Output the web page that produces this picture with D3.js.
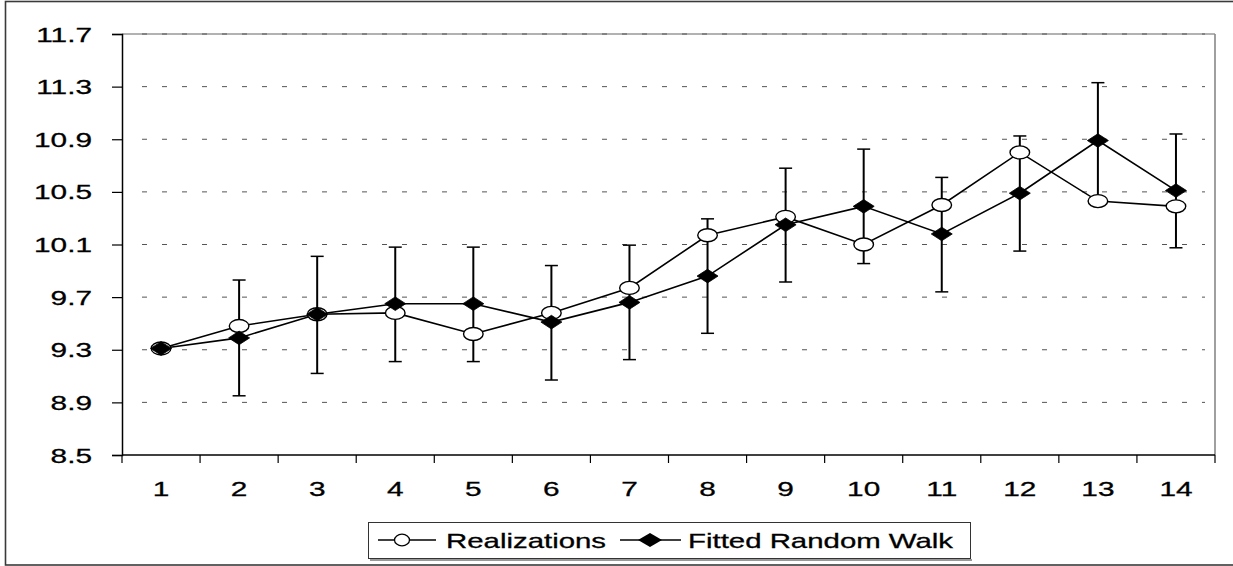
<!DOCTYPE html>
<html>
<head>
<meta charset="utf-8">
<script src="https://cdn.jsdelivr.net/npm/d3@7"></script>
<style>
  html, body { margin: 0; padding: 0; background: #fff; }
  svg { display: block; }
  text { font-family: "Liberation Sans", Arial, sans-serif; fill: #000; stroke: #000; stroke-width: 0.3px; }
</style>
</head>
<body>
<svg id="chart" width="1233" height="566"></svg>
<script>
// ---- data ----
const categories = ["1","2","3","4","5","6","7","8","9","10","11","12","13","14"];
const realizations = [9.31, 9.48, 9.57, 9.58, 9.42, 9.58, 9.77, 10.17, 10.31, 10.10, 10.40, 10.80, 10.43, 10.39];
const fittedRandomWalk = [9.31, 9.39, 9.57, 9.65, 9.65, 9.51, 9.66, 9.86, 10.25, 10.39, 10.18, 10.49, 10.89, 10.51];
const errorPlus  = [0, 0.44, 0.44, 0.43, 0.43, 0.43, 0.435, 0.435, 0.43, 0.435, 0.43, 0.435, 0.44, 0.43];
const errorMinus = [0, 0.44, 0.45, 0.44, 0.44, 0.44, 0.435, 0.435, 0.435, 0.435, 0.44, 0.44, 0.44, 0.435];
const yTicks = [8.5, 8.9, 9.3, 9.7, 10.1, 10.5, 10.9, 11.3, 11.7];
const yTickLabels = ["8.5", "8.9", "9.3", "9.7", "10.1", "10.5", "10.9", "11.3", "11.7"];
const seriesNames = ["Realizations", "Fitted Random Walk"];

// ---- layout ----
const SX = 1.42;            // horizontal stretch of the reference
const FS = 21;
const pLeft = 122, pRight = 1215, pTop = 34, pBottom = 455;

const svg = d3.select("#chart");

const x = d3.scaleBand().domain(categories).range([pLeft, pRight]).padding(0);
const y = d3.scaleLinear().domain([8.5, 11.7]).range([pBottom, pTop]);
const cx = c => x(c) + x.bandwidth() / 2;

// outer frame
svg.append("rect").attr("x", 5.5).attr("y", 1.5).attr("width", 1260).attr("height", 563.5)
  .attr("fill", "none").attr("stroke", "#3a3a3a").attr("stroke-width", 1.6);

// plot area border top and right (gray)
svg.append("line").attr("x1", pLeft).attr("x2", pRight).attr("y1", y(11.7)).attr("y2", y(11.7))
  .attr("stroke", "#999").attr("stroke-width", 1.5);
svg.append("line").attr("x1", pRight).attr("x2", pRight).attr("y1", y(11.7)).attr("y2", y(8.5))
  .attr("stroke", "#888").attr("stroke-width", 1.6);

// gridlines (dashed)
svg.append("g").selectAll("line").data(yTicks.filter(v => v > 8.5)).join("line")
  .attr("x1", pLeft + 20).attr("x2", pRight - 10)
  .attr("y1", d => y(d)).attr("y2", d => y(d))
  .attr("stroke", "#555").attr("stroke-width", 1)
  .attr("stroke-dasharray", "5,15");

// y axis
const yAxis = d3.axisLeft(y).tickValues(yTicks).tickSize(10).tickFormat("");
const gy = svg.append("g").attr("transform", `translate(${pLeft},0)`).call(yAxis);
gy.select(".domain").attr("stroke", "#000").attr("stroke-width", 1.5);
gy.selectAll(".tick line").attr("stroke", "#000").attr("stroke-width", 1.2);

svg.append("g").selectAll("text").data(yTicks).join("text")
  .attr("transform", (d) => `translate(92,${y(d) + 7.5}) scale(${SX},1)`)
  .attr("text-anchor", "end").attr("font-size", FS)
  .text((d, i) => yTickLabels[i]);

// x axis
svg.append("line").attr("x1", pLeft).attr("x2", pRight).attr("y1", pBottom).attr("y2", pBottom)
  .attr("stroke", "#000").attr("stroke-width", 1.5);
const boundaries = categories.map(c => x(c)).concat([x(categories[categories.length - 1]) + x.bandwidth()]);
svg.append("g").selectAll("line").data(boundaries).join("line")
  .attr("x1", d => d).attr("x2", d => d).attr("y1", pBottom).attr("y2", pBottom + 8)
  .attr("stroke", "#000").attr("stroke-width", 1.2);
svg.append("g").selectAll("text").data(categories).join("text")
  .attr("transform", d => `translate(${cx(d)},496) scale(${SX},1)`)
  .attr("text-anchor", "middle").attr("font-size", FS)
  .text(d => d);

// error bars on fitted series
const eb = svg.append("g");
categories.forEach((c, i) => {
  if (errorPlus[i] === 0 && errorMinus[i] === 0) return;
  const xc = cx(c);
  const yt = y(fittedRandomWalk[i] + errorPlus[i]);
  const yb = y(fittedRandomWalk[i] - errorMinus[i]);
  eb.append("line").attr("x1", xc).attr("x2", xc).attr("y1", yt).attr("y2", yb)
    .attr("stroke", "#000").attr("stroke-width", 2);
  [yt, yb].forEach(yy => eb.append("line").attr("x1", xc - 6.5).attr("x2", xc + 6.5)
    .attr("y1", yy).attr("y2", yy).attr("stroke", "#000").attr("stroke-width", 1.5));
});

// series lines
const line = d3.line().x((d, i) => cx(categories[i])).y(d => y(d));
svg.append("path").datum(realizations).attr("d", line)
  .attr("fill", "none").attr("stroke", "#000").attr("stroke-width", 1.6);
svg.append("path").datum(fittedRandomWalk).attr("d", line)
  .attr("fill", "none").attr("stroke", "#000").attr("stroke-width", 1.6);

// markers
svg.append("g").selectAll("ellipse").data(realizations).join("ellipse")
  .attr("cx", (d, i) => cx(categories[i])).attr("cy", d => y(d))
  .attr("rx", 9.8).attr("ry", 6.5)
  .attr("fill", "#fff").attr("stroke", "#000").attr("stroke-width", 1.4);

const diamond = (hw, hh) => `M0,${-hh}L${hw},0L0,${hh}L${-hw},0Z`;
svg.append("g").selectAll("path").data(fittedRandomWalk).join("path")
  .attr("transform", (d, i) => `translate(${cx(categories[i])},${y(d)})`)
  .attr("d", diamond(10.5, 6.8))
  .attr("fill", "#000").attr("stroke", "#000").attr("stroke-width", 0.8);

// legend
const lg = svg.append("g");
lg.append("line").attr("x1", 370).attr("x2", 972).attr("y1", 560).attr("y2", 560)
  .attr("stroke", "#999").attr("stroke-width", 2);
lg.append("rect").attr("x", 368.5).attr("y", 522.5).attr("width", 602).attr("height", 36)
  .attr("fill", "#fff").attr("stroke", "#333").attr("stroke-width", 1);
const ly = 540;
lg.append("line").attr("x1", 378).attr("x2", 436).attr("y1", ly).attr("y2", ly)
  .attr("stroke", "#000").attr("stroke-width", 1.5);
lg.append("ellipse").attr("cx", 402).attr("cy", ly).attr("rx", 7.5).attr("ry", 5.8)
  .attr("fill", "#fff").attr("stroke", "#000").attr("stroke-width", 1.3);
lg.append("text").attr("transform", `translate(446,${ly + 7.5}) scale(1.4,1)`)
  .attr("font-size", FS).text(seriesNames[0]);
lg.append("line").attr("x1", 620).attr("x2", 681).attr("y1", ly).attr("y2", ly)
  .attr("stroke", "#000").attr("stroke-width", 1.5);
lg.append("path").attr("transform", `translate(650,${ly})`).attr("d", diamond(12, 7))
  .attr("fill", "#000");
lg.append("text").attr("transform", `translate(688,${ly + 7.5}) scale(1.4,1)`)
  .attr("font-size", FS).text(seriesNames[1]);
</script>
</body>
</html>
